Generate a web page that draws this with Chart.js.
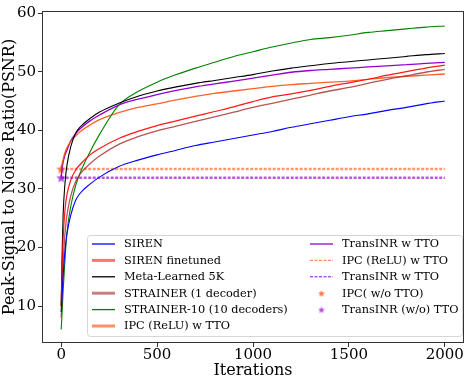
<!DOCTYPE html>
<html><head><meta charset="utf-8">
<script src="https://cdn.jsdelivr.net/npm/chart.js@4/dist/chart.umd.min.js"></script>
<style>html,body{margin:0;padding:0;background:#fff}</style>
</head><body>
<canvas id="c" width="470" height="380" style="width:470px;height:380px;display:block"></canvas>
<script>
// ---------- data ----------
const iterations = [0,5,10,20,30,50,75,100,150,200,300,400,500,600,700,800,900,1000,1100,1200,1300,1400,1500,1600,1700,1800,1900,2000];
const siren        = [9,12,15,19.5,22.3,25.5,28,29.3,30.8,32.0,33.8,34.9,35.8,36.6,37.4,38.0,38.6,39.2,39.8,40.5,41.1,41.7,42.3,42.8,43.4,43.9,44.5,45.0];
const sirenFT      = [10,17,21.5,26.5,29,31.5,33.2,34.2,35.8,36.9,38.6,39.8,40.8,41.6,42.4,43.2,44.0,44.9,45.7,46.2,46.8,47.5,48.1,48.7,49.4,50.0,50.6,51.1];
const metaLearned  = [10,19,25.5,31,34,37.2,39.5,40.6,42.0,43.1,44.6,45.8,46.7,47.4,48.0,48.5,49.0,49.5,50.1,50.6,51.0,51.4,51.7,52.0,52.3,52.6,52.9,53.1];
const strainer1    = [8,13,17,22.5,25.5,28.8,31.2,32.6,34.3,35.6,37.6,38.9,39.9,40.7,41.5,42.3,43.1,43.9,44.6,45.3,46.0,46.7,47.3,48.0,48.7,49.3,49.9,50.4];
const strainer10   = [6,9,12.5,18,22.5,27,30.5,32.8,36.3,39.3,44.3,46.6,48.2,49.5,50.6,51.6,52.6,53.4,54.2,54.9,55.5,55.8,56.2,56.7,57.0,57.3,57.6,57.8];
const ipcReluTTO   = [33.4,34.3,35.0,36.2,37.0,38.1,39.0,39.8,40.9,41.8,43.0,43.9,44.5,45.2,45.8,46.3,46.7,47.1,47.5,47.8,48.0,48.2,48.4,48.7,49.0,49.2,49.4,49.6];
const transInrTTO  = [31.9,33.5,34.5,35.8,36.6,38.2,39.4,40.3,41.6,42.6,44.3,45.3,46.1,46.8,47.4,47.9,48.4,48.9,49.4,49.9,50.2,50.4,50.6,50.8,51.0,51.2,51.4,51.6];
const flatIters    = [0, 2000];
const ipcReluFlat  = [33.4, 33.4];
const transInrFlat = [31.9, 31.9];
const starIters    = [0];
const ipcNoTTO     = [33.4];
const transInrNoTTO= [31.9];
const xTicks = [0,500,1000,1500,2000];
const yTicks = [10,20,30,40,50,60];
const labels = ['SIREN','SIREN finetuned','Meta-Learned 5K','STRAINER (1 decoder)','STRAINER-10 (10 decoders)','IPC (ReLU) w TTO',
                'TransINR w TTO','IPC (ReLU) w TTO','TransINR w TTO','IPC( w/o TTO)','TransINR (w/o) TTO'];

const pts = (xs, ys) => xs.map((x, i) => ({x, y: ys[i]}));
const FONT = "'DejaVu Serif', serif";

function starImg(fill, size){
  const c = document.createElement('canvas');
  c.width = size; c.height = size;
  const g = c.getContext('2d');
  const cx = size/2, cy = size/2 + 0.5, R = size/2 - 0.3, r = R*0.42;
  g.beginPath();
  for (let k = 0; k < 10; k++){
    const a = -Math.PI/2 + k*Math.PI/5;
    const rr = k%2 ? r : R;
    g.lineTo(cx + rr*Math.cos(a), cy + rr*Math.sin(a));
  }
  g.closePath();
  g.fillStyle = fill; g.fill();
  return c;
}
const starIPC = starImg('rgba(255,69,0,0.75)', 11);
const starTrans = starImg('rgba(148,0,211,0.7)', 11);

function lineDS(label, xs, ys, color, width, extra){
  return Object.assign({label, data: pts(xs, ys), borderColor: color, backgroundColor: color,
    borderWidth: width, pointRadius: 0, fill: false, cubicInterpolationMode: 'monotone'}, extra || {});
}

const datasets = [
  lineDS(labels[0], iterations, siren, '#0000ff', 1.1, {legendColor:'#0000ff', legendWidth:1.3}),
  lineDS(labels[1], iterations, sirenFT, 'rgba(255,0,0,0.9)', 1.2, {legendColor:'rgba(255,0,0,0.55)', legendWidth:3}),
  lineDS(labels[2], iterations, metaLearned, '#000000', 1.1, {legendColor:'#000', legendWidth:1.3}),
  lineDS(labels[3], iterations, strainer1, 'rgba(165,42,42,0.8)', 1.3, {legendColor:'rgba(165,42,42,0.6)', legendWidth:3}),
  lineDS(labels[4], iterations, strainer10, '#008000', 1.1, {legendColor:'#008000', legendWidth:1.3}),
  lineDS(labels[5], iterations, ipcReluTTO, 'rgba(255,69,0,0.85)', 1.3, {legendColor:'rgba(255,69,0,0.6)', legendWidth:3}),
  lineDS(labels[6], iterations, transInrTTO, '#9400d3', 1.3, {legendColor:'#9400d3', legendWidth:1.3}),
  lineDS(labels[7], flatIters, ipcReluFlat, 'rgba(255,69,0,0.55)', 2.5, {borderDash:[3,1.5], cubicInterpolationMode:'default', legendColor:'rgba(255,69,0,0.6)', legendWidth:1.3, legendDash:[3,1.5]}),
  lineDS(labels[8], flatIters, transInrFlat, 'rgba(148,0,211,0.65)', 2.5, {borderDash:[3,1.5], cubicInterpolationMode:'default', legendColor:'#9400d3', legendWidth:1, legendDash:[3,1.5]}),
  {label: labels[9], data: pts(starIters, ipcNoTTO), showLine:false, pointStyle: starIPC, pointRadius: 5, legendStar: starImg('rgba(255,69,0,0.75)', 8)},
  {label: labels[10], data: pts(starIters, transInrNoTTO), showLine:false, pointStyle: starTrans, pointRadius: 5, legendStar: starImg('rgba(148,0,211,0.7)', 8)}
];

const framePlugin = {
  id: 'frame',
  afterDatasetsDraw(chart){
    const a = chart.chartArea, ctx = chart.ctx;
    ctx.save();
    ctx.strokeStyle = '#333'; ctx.lineWidth = 1;
    ctx.strokeRect(Math.round(a.left)+0.5, Math.round(a.top)+0.5, Math.round(a.right-a.left)-1, Math.round(a.bottom-a.top)-1);
    ctx.restore();
  }
};

const legendPlugin = {
  id: 'customLegend',
  afterDraw(chart, args, o){
    const ctx = chart.ctx;
    ctx.save();
    const {x, y, w, h} = o.box, r = 3;
    ctx.beginPath();
    ctx.moveTo(x+r, y); ctx.lineTo(x+w-r, y); ctx.quadraticCurveTo(x+w, y, x+w, y+r);
    ctx.lineTo(x+w, y+h-r); ctx.quadraticCurveTo(x+w, y+h, x+w-r, y+h);
    ctx.lineTo(x+r, y+h); ctx.quadraticCurveTo(x, y+h, x, y+h-r);
    ctx.lineTo(x, y+r); ctx.quadraticCurveTo(x, y, x+r, y); ctx.closePath();
    ctx.fillStyle = 'rgba(255,255,255,0.85)'; ctx.fill();
    ctx.strokeStyle = '#d6d6d6'; ctx.lineWidth = 1; ctx.stroke();
    ctx.font = o.fontSize + 'px ' + FONT;
    ctx.textBaseline = 'middle'; ctx.fillStyle = '#000';
    chart.data.datasets.forEach((ds, i) => {
      const col = i < o.perCol ? 0 : 1;
      const row = i < o.perCol ? i : i - o.perCol;
      const hx = o.cols[col], yy = o.top + row*o.rowH;
      if (ds.legendStar){
        const s = ds.legendStar;
        ctx.drawImage(s, hx + o.handleW/2 - s.width/2, yy - s.height/2);
      } else {
        ctx.save();
        ctx.strokeStyle = ds.legendColor; ctx.lineWidth = ds.legendWidth;
        ctx.setLineDash(ds.legendDash || []);
        ctx.beginPath(); ctx.moveTo(hx, yy); ctx.lineTo(hx + o.handleW, yy); ctx.stroke();
        ctx.restore();
      }
      ctx.fillStyle = '#000';
      ctx.fillText(ds.label, hx + o.handleW + o.gap, yy + 0.5);
    });
    ctx.restore();
  }
};

const axisCommon = {
  type: 'linear',
  grid: {display: true, drawOnChartArea: false, drawTicks: true, tickLength: 4, color: '#333', lineWidth: 1},
  border: {display: false},
};

new Chart(document.getElementById('c'), {
  type: 'line',
  data: {datasets},
  plugins: [framePlugin, legendPlugin],
  options: {
    responsive: false, animation: false, devicePixelRatio: 1,
    layout: {padding: {top: 4, right: 2, left: 0, bottom: 0}},
    plugins: {
      legend: {display: false}, tooltip: {enabled: false},
      customLegend: {box: {x: 87.5, y: 235.5, w: 375, h: 101}, cols: [92, 310], top: 244, rowH: 16.4, perCol: 6, handleW: 23, gap: 9, fontSize: 11.3}
    },
    scales: {
      x: Object.assign({}, axisCommon, {
        min: -100, max: 2100,
        afterBuildTicks: s => { s.ticks = xTicks.map(v => ({value: v})); },
        afterFit: s => { s.height = 37; },
        ticks: {font: {family: FONT, size: 15}, color: '#000', padding: -1, maxRotation: 0, autoSkip: false, callback: v => String(v)},
        title: {display: true, text: 'Iterations', font: {family: FONT, size: 16}, color: '#000', padding: {top: 0, bottom: 0}}
      }),
      y: Object.assign({}, axisCommon, {
        min: 3.7, max: 60.35,
        afterBuildTicks: s => { s.ticks = yTicks.map(v => ({value: v})); },
        afterFit: s => { s.width = 42; },
        ticks: {font: {family: FONT, size: 15}, color: '#000', padding: 2, autoSkip: false, callback: v => String(v)},
        title: {display: true, text: 'Peak-Signal to Noise Ratio(PSNR)', font: {family: FONT, size: 16}, color: '#000', padding: {top: 0, bottom: 0}}
      })
    }
  }
});
</script>
</body></html>
